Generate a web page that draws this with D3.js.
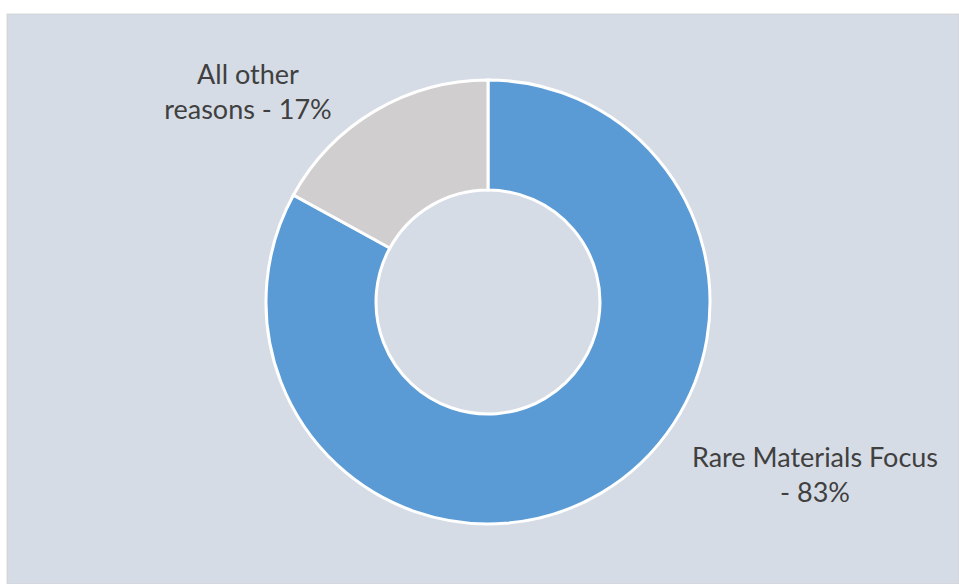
<!DOCTYPE html>
<html>
<head>
<meta charset="utf-8">
<style>
	body { margin: 0; background: #fff; }
	svg { display: block; }
</style>
</head>
<body>
<div id="chart"></div>
<script src="https://cdn.jsdelivr.net/npm/d3@7"></script>
<script>
	// data
	const categories = ["Rare Materials Focus", "All other reasons"];
	const shares = [83, 17];
	const labelLines = [["Rare Materials Focus", "- 83%"], ["All other", "reasons - 17%"]];
	const colors = ["#5B9BD5", "#D0CECE"];

	var width = 959, height = 584;
	var cx = 488, cy = 302;
	var outerR = 222, innerR = 112;

	var svg = d3.select("#chart").append("svg")
		.attr("width", width).attr("height", height);

	// panel background
	svg.append("rect")
		.attr("x", 7).attr("y", 14)
		.attr("width", width - 7).attr("height", height - 14)
		.attr("fill", "#D6DCE5")
		.attr("stroke", "#D0D0D0")
		.attr("stroke-width", 0.75);

	const data = categories.map((c, i) => ({ name: c, value: shares[i], lines: labelLines[i] }));

	const pie = d3.pie().value(d => d.value).sort(null);
	const arc = d3.arc().innerRadius(innerR).outerRadius(outerR);

	var g = svg.append("g").attr("transform", `translate(${cx},${cy})`);

	g.selectAll("path")
		.data(pie(data))
		.join("path")
		.attr("d", arc)
		.attr("fill", (d, i) => colors[i])
		.attr("stroke", "#fff")
		.attr("stroke-width", 3);

	// label anchors (first-line baseline)
	const labelPos = [[815, 467], [248, 84]];

	var labels = svg.selectAll("text.lbl")
		.data(data)
		.join("text")
		.attr("class", "lbl")
		.attr("text-anchor", "middle")
		.attr("font-family", "Lato, 'Open Sans', sans-serif")
		.attr("font-size", 27)
		.attr("fill", "#404040")
		.attr("transform", (d, i) => `translate(${labelPos[i][0]},${labelPos[i][1]})`);

	labels.selectAll("tspan")
		.data(d => d.lines)
		.join("tspan")
		.attr("x", 0)
		.attr("dy", (d, i) => i === 0 ? 0 : 35)
		.text(d => d);
</script>
</body>
</html>
